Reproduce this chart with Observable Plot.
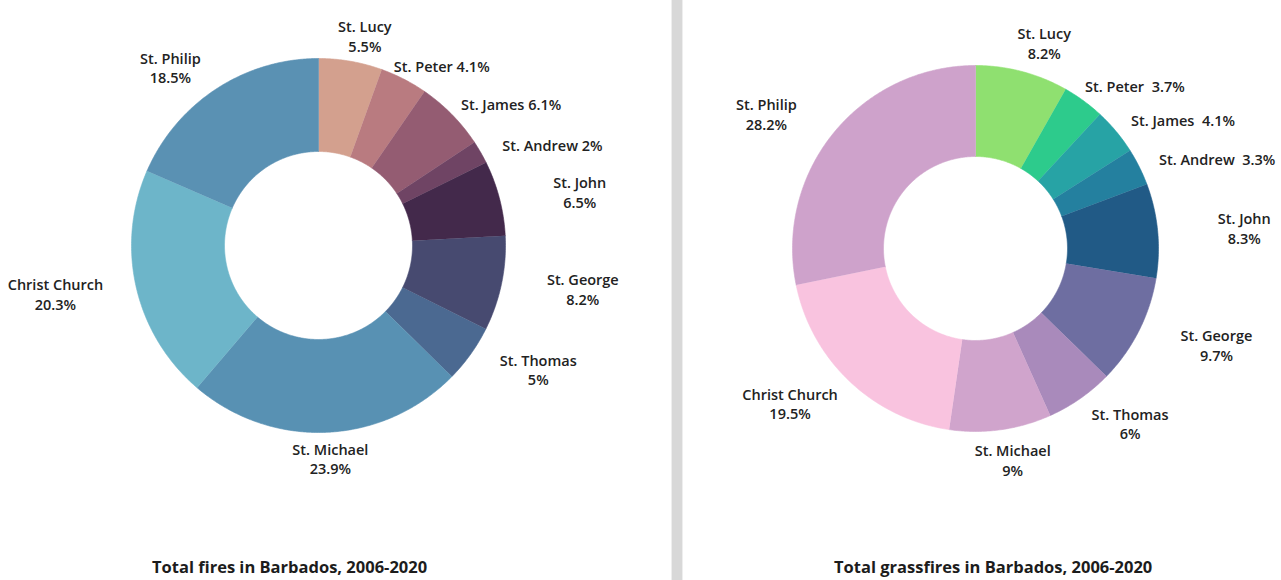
<!DOCTYPE html>
<html>
<head>
<meta charset="utf-8">
<script src="https://cdn.jsdelivr.net/npm/d3@7"></script>
<script src="https://cdn.jsdelivr.net/npm/@observablehq/plot@0.6"></script>
<style>
  html, body { margin: 0; padding: 0; background: #fff; }
  body { width: 1281px; height: 580px; overflow: hidden; font-family: "Open Sans", sans-serif; }
  #wrap { display: flex; flex-direction: row; width: 1281px; height: 580px; }
  .panel { position: relative; height: 580px; overflow: hidden; }
  .divider { width: 10px; height: 580px; background: #d8d8d8; box-shadow: 1px 0 0 #eeeeee, -1px 0 0 #eeeeee; }
  .caption { height: 24px; line-height: 23px; font-size: 16.5px; font-weight: 700; color: #1c1c1c; padding-left: 152px; white-space: nowrap; }
  svg { display: block; }
</style>
</head>
<body>
<div id="wrap">
  <div class="panel" id="left" style="width:672px"></div>
  <div class="divider"></div>
  <div class="panel" id="right" style="width:599px"></div>
</div>
<script>
// ---- Data ----
const parishes = ["St. Lucy", "St. Peter", "St. James", "St. Andrew", "St. John", "St. George", "St. Thomas", "St. Michael", "Christ Church", "St. Philip"];
const totalFiresPct = [5.5, 4.1, 6.1, 2, 6.5, 8.2, 5, 23.9, 20.3, 18.5];
const grassfiresPct = [8.2, 3.7, 4.1, 3.3, 8.3, 9.7, 6, 9, 19.5, 28.2];
const firesColors = ["#d3a08e", "#b97b80", "#945c72", "#6f4464", "#43294b", "#474a70", "#4b6991", "#5891b3", "#6db5c9", "#5a91b3"];
const grassColors = ["#8fe070", "#2dcb8c", "#27a3a5", "#24809f", "#215a86", "#6e6ea1", "#a98abb", "#d0a4cc", "#f9c3df", "#cea2cb"];
const firesTitle = "Total fires in Barbados, 2006-2020";
const grassTitle = "Total grassfires in Barbados, 2006-2020";

function donut({values, colors, width, height, cx, cy, R, r, rx, ry, gap}) {
  const arcs = d3.pie().sort(null).value(d => d)(values);
  const pts = [];
  const labels = [];
  arcs.forEach((a, i) => {
    const name = parishes[i];
    const n = Math.max(2, Math.ceil((a.endAngle - a.startAngle) / (Math.PI / 360)));
    for (let k = 0; k <= n; k++) {
      const t = a.startAngle + (a.endAngle - a.startAngle) * k / n;
      pts.push({name, x: R * Math.sin(t), y: R * Math.cos(t)});
    }
    for (let k = n; k >= 0; k--) {
      const t = a.startAngle + (a.endAngle - a.startAngle) * k / n;
      pts.push({name, x: r * Math.sin(t), y: r * Math.cos(t)});
    }
    const mid = (a.startAngle + a.endAngle) / 2;
    const deg = mid * 180 / Math.PI;
    const single = deg > 20 && deg < 70;
    const text = single ? name + gap + values[i] + "%" : name + "\n" + values[i] + "%";
    const ery = single ? ry - 11 : ry;
    labels.push({name, text, x: rx * Math.sin(mid), y: ery * Math.cos(mid)});
  });
  return Plot.plot({
    width, height,
    margin: 0,
    x: {domain: [-cx, width - cx], range: [0, width], axis: null},
    y: {domain: [-(height - cy), cy], range: [height, 0], axis: null},
    color: {domain: parishes, range: colors},
    style: {fontFamily: "'Open Sans', sans-serif", background: "transparent", overflow: "visible"},
    marks: [
      Plot.line(pts, {x: "x", y: "y", z: "name", fill: "name", stroke: "name", strokeWidth: 0.6, curve: "linear"}),
      Plot.text(labels, {x: "x", y: "y", text: "text", fontSize: 14.5, fontWeight: 600, fill: "#222", lineHeight: 1.35, fontFamily: "'Open Sans', sans-serif"})
    ]
  });
}

const H = 555;
const left = document.getElementById("left");
left.append(donut({values: totalFiresPct, colors: firesColors, width: 672, height: H, cx: 318, cy: 245, R: 187, r: 94, rx: 270, ry: 213, gap: "\u00a0"}));
const lc = document.createElement("div"); lc.className = "caption"; lc.textContent = firesTitle; left.append(lc);

const right = document.getElementById("right");
right.append(donut({values: grassfiresPct, colors: grassColors, width: 599, height: H, cx: 293, cy: 248, R: 183, r: 92, rx: 270, ry: 213, gap: "\u00a0 "}));
const rc = document.createElement("div"); rc.className = "caption"; rc.textContent = grassTitle; right.append(rc);
</script>
</body>
</html>
